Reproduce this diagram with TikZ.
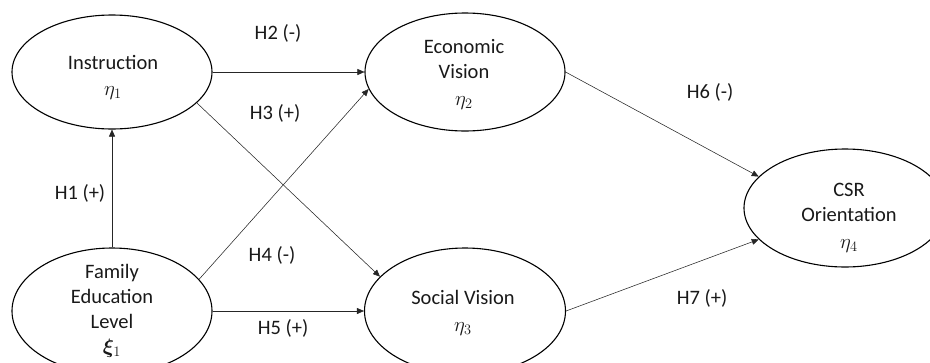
\documentclass[tikz,border=0pt]{standalone}
\usepackage{fontspec}
\usepackage{amsmath,bm}
\setmainfont{Carlito}
\usetikzlibrary{shapes.geometric,arrows.meta}
\tikzset{
  oval/.style={ellipse, draw=black, line width=1.1pt, inner sep=0pt},
  txt/.style={font=\fontsize{20.5}{25}\selectfont, align=center, text=black!90, inner sep=0pt},
  link/.style={draw=black!85, line width=0.55pt, -{Triangle[length=7pt,width=6pt]}},
  lbl/.style={font=\fontsize{20.5}{24}\selectfont, text=black!90, inner sep=0pt}
}
\begin{document}
\begin{tikzpicture}[x=1pt,y=-1pt]
\useasboundingbox (0,0) rectangle (930,362);
\clip (0,0) rectangle (930,362);
% ovals
\node[oval, minimum width=200pt, minimum height=114pt] (ins) at (112,72) {};
\node[oval, minimum width=200pt, minimum height=126pt] (fam) at (112,311) {};
\node[oval, minimum width=200pt, minimum height=118pt] (eco) at (465,72) {};
\node[oval, minimum width=201pt, minimum height=126pt] (soc) at (465,311) {};
\node[oval, minimum width=202pt, minimum height=118pt] (csr) at (845,208) {};
% texts
\node[txt] (tins) at (113,77) {Instruction\\[1pt]$\eta_1$};
\node[txt] (tfam) at (112,311) {Family\\Education\\Level\\[0pt]$\bm{\xi}_1$};
\node[txt] (teco) at (464,74) {Economic\\Vision\\[2pt]$\eta_2$};
\node[txt] (tsoc) at (463,313) {Social Vision\\[2pt]$\eta_3$};
\node[txt] (tcsr) at (849,218) {CSR\\Orientation\\[2pt]$\eta_4$};
% connectors
\draw[link] (fam.north) -- (ins.south);
\draw[link] (ins.east) -- (eco.west);
\draw[link] (ins.-20) -- (soc.158);
\draw[link] (fam.20) -- (eco.190);
\draw[link] (fam.east) -- (soc.west);
\draw[link] (eco.east) -- (csr.160);
\draw[link] (soc.east) -- (csr.200);
% labels
\node[lbl] (h1) at (80,193) {H1 (+)};
\node[lbl] (h2) at (278,33) {H2 (-)};
\node[lbl] (h3) at (275,113) {H3 (+)};
\node[lbl] (h4) at (272,255) {H4 (-)};
\node[lbl] (h5) at (283,328) {H5 (+)};
\node[lbl] (h6) at (710,92) {H6 (-)};
\node[lbl] (h7) at (702,298) {H7 (+)};
\end{tikzpicture}
\end{document}
